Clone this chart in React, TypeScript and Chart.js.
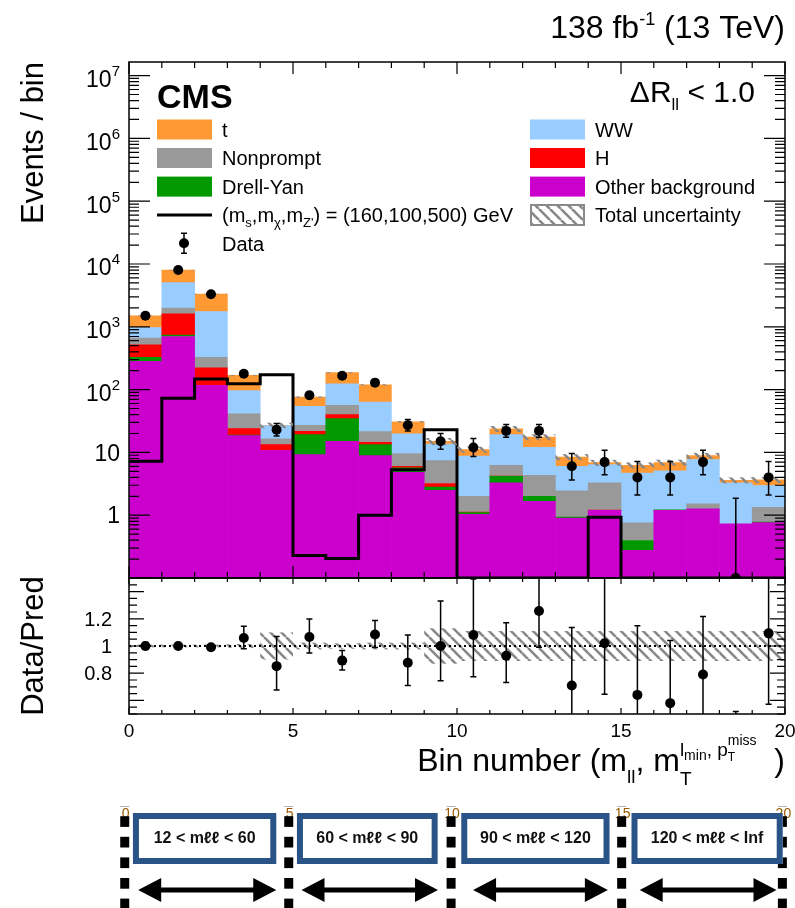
import React, { useEffect, useRef } from 'react';
import { Chart, registerables } from 'chart.js';

Chart.register(...registerables);

const FONT = '"Liberation Sans", Arial, Helvetica, sans-serif';

// 20 analysis bins, five per m_ll region
const binEdges = [0, 1, 2, 3, 4, 5, 6, 7, 8, 9, 10, 11, 12, 13, 14, 15, 16, 17, 18, 19, 20];

// Expected yields per bin, listed in stacking order (bottom to top)
const otherBkg = [281, 701, 117, 18.5, 10.8, 9.2, 15, 8.9, 4.8, 2.5, 1.03, 3.27, 1.67, 0.9, 1.19, 0.275, 1.2, 1.26, 0.73, 0.76];
const drellYan = [44, 34, 0, 0.3, 0, 10, 19.5, 4.4, 0.9, 0.3, 0.07, 0.9, 0.33, 0.03, 0, 0.12, 0.02, 0, 0, 0.02];
const higgs = [192, 875, 106, 5.1, 2.5, 2.5, 5.5, 1.2, 0.3, 0.4, 0.02, 0.03, 0, 0, 0.02, 0, 0, 0, 0, 0];
const nonprompt = [144, 370, 102, 17.1, 3.1, 5.3, 16, 6.9, 3.6, 4.2, 0.88, 2.0, 2.3, 1.51, 2.06, 0.36, 0, 0.26, 0, 0.56];
const wwBkg = [314, 3080, 1425, 55, 10.3, 27, 67, 42.1, 10.1, 6.2, 6.7, 13, 7.7, 3.56, 3.13, 3.94, 3.88, 6.18, 2.54, 1.63];
const topBkg = [525, 2940, 1580, 73, 0.3, 22, 63, 55.5, 11.1, 1.4, 2.4, 4.5, 5.5, 2.45, 0.46, 1.55, 1.8, 1.16, 0.33, 0.69];

// Signal hypothesis (m_s, m_chi, m_Z') = (160, 100, 500) GeV
const signalYield = [7.2, 73, 147, 124, 172, 0.229, 0.205, 1.0, 5.3, 23, 0, 0, 0, 0, 0.93, 0, 0, 0, 0, 0];

// Observed event counts
const observed = [1500, 8000, 3300, 179, 23, 81, 166, 129, 27, 15, 12, 22, 22, 6, 7, 4, 4, 7, 0, 4];

// Relative total uncertainty of the prediction
const relUnc = [0.01, 0.01, 0.01, 0.015, 0.1, 0.025, 0.02, 0.025, 0.025, 0.13, 0.11, 0.11, 0.11, 0.11, 0.11, 0.11, 0.11, 0.11, 0.11, 0.11];

// Axis tick labels
const decadeLabels = [0, 1, 2, 3, 4, 5, 6, 7];
const ratioLabels = [0.8, 1, 1.2];
const xLabels = [0, 5, 10, 15, 20];

// m_ll regions drawn under the bin axis
const mllLabels = ['12 < mℓℓ < 60', '60 < mℓℓ < 90', '90 < mℓℓ < 120', '120 < mℓℓ < Inf'];
const mllBoxSpans = [[0.12, 4.49], [5.12, 9.41], [10.13, 14.65], [15.32, 19.93]];
const mllArrowSpans = [[0.28, 4.49], [5.26, 9.42], [10.49, 14.6], [15.57, 19.74]];
const mllDividers = [-0.13, 4.87, 9.82, 15.02, 19.92];

const Y_MIN = 0.1;
const Y_MAX = 1.645e7;
const R_MIN = 0.5;
const R_MAX = 1.5;

const processes = [
  { label: 'Other background', color: '#cc00cc', values: otherBkg },
  { label: 'Drell-Yan', color: '#009900', values: drellYan },
  { label: 'H', color: '#ff0000', values: higgs },
  { label: 'Nonprompt', color: '#999999', values: nonprompt },
  { label: 'WW', color: '#99ccff', values: wwBkg },
  { label: 't', color: '#ff9933', values: topBkg },
];
const colorOf = (label: string) => processes.find((p) => p.label === label)!.color;

const centers = binEdges.slice(0, -1).map((e, i) => (e + binEdges[i + 1]) / 2);
const totals = centers.map((_, i) => processes.reduce((s, p) => s + p.values[i], 0));

// Poisson 68% interval (Gehrels approximation)
function poissonLow(n: number) {
  if (n <= 0) return 0;
  return n * Math.pow(1 - 1 / (9 * n) - 1 / (3 * Math.sqrt(n)), 3);
}
function poissonHigh(n: number) {
  return n + 1 + Math.sqrt(n + 0.75);
}

type Seg = { t: string; size: number; dy?: number; bold?: boolean; hold?: boolean };
const segFont = (s: Seg) => `${s.bold ? 'bold ' : ''}${s.size}px ${FONT}`;

function drawRich(ctx: CanvasRenderingContext2D, segs: Seg[], x: number, y: number, align: 'left' | 'right' | 'center' = 'left') {
  let w = 0;
  for (const s of segs) {
    ctx.font = segFont(s);
    if (!s.hold) w += ctx.measureText(s.t).width;
  }
  let cx = align === 'right' ? x - w : align === 'center' ? x - w / 2 : x;
  ctx.textAlign = 'left';
  ctx.textBaseline = 'alphabetic';
  for (const s of segs) {
    ctx.font = segFont(s);
    ctx.fillText(s.t, cx, y + (s.dy || 0));
    if (!s.hold) cx += ctx.measureText(s.t).width;
  }
}

function hatchPattern(ctx: CanvasRenderingContext2D) {
  const size = 11;
  const c = document.createElement('canvas');
  c.width = size;
  c.height = size;
  const g = c.getContext('2d')!;
  g.strokeStyle = '#888888';
  g.lineWidth = 2.6;
  for (const off of [-size, 0, size]) {
    g.beginPath();
    g.moveTo(off, 0);
    g.lineTo(off + size, size);
    g.stroke();
  }
  return ctx.createPattern(c, 'repeat')!;
}

function errorBar(ctx: CanvasRenderingContext2D, px: number, yLo: number, yHi: number, top: number, bottom: number, loCap: boolean) {
  ctx.beginPath();
  ctx.moveTo(px, Math.min(yLo, bottom + 2));
  ctx.lineTo(px, Math.max(yHi, top - 2));
  if (yHi >= top && yHi <= bottom) {
    ctx.moveTo(px - 3, yHi);
    ctx.lineTo(px + 3, yHi);
  }
  if (loCap && yLo >= top && yLo <= bottom) {
    ctx.moveTo(px - 3, yLo);
    ctx.lineTo(px + 3, yLo);
  }
  ctx.stroke();
}

const mainDecor = {
  id: 'mainDecor',
  beforeDatasetDraw(chart: any, args: any) {
    if (args.index !== 0) return;
    const { ctx, chartArea: a } = chart;
    const xs = chart.scales.x;
    const ys = chart.scales.y;
    ctx.save();
    ctx.beginPath();
    ctx.rect(a.left, a.top, a.right - a.left, a.bottom - a.top);
    ctx.clip();
    ctx.fillStyle = hatchPattern(ctx);
    totals.forEach((tot, i) => {
      const x0 = xs.getPixelForValue(binEdges[i]);
      const x1 = xs.getPixelForValue(binEdges[i + 1]);
      const yHi = ys.getPixelForValue(tot * (1 + relUnc[i]));
      const yLo = ys.getPixelForValue(tot * (1 - relUnc[i]));
      ctx.fillRect(x0, yHi, x1 - x0, yLo - yHi);
    });
    ctx.strokeStyle = '#000';
    ctx.lineWidth = 1.5;
    observed.forEach((n, i) => {
      const px = xs.getPixelForValue(centers[i]);
      const lo = poissonLow(n);
      const yLo = lo > 0 ? ys.getPixelForValue(lo) : a.bottom + 5;
      const yHi = ys.getPixelForValue(poissonHigh(n));
      errorBar(ctx, px, yLo, yHi, a.top, a.bottom, lo > 0);
    });
    ctx.restore();
  },
  afterDraw(chart: any) {
    const { ctx, chartArea: a } = chart;
    const xs = chart.scales.x;
    const ys = chart.scales.y;
    ctx.save();
    ctx.strokeStyle = '#000';
    ctx.fillStyle = '#000';
    ctx.lineWidth = 1.5;
    ctx.strokeRect(a.left, a.top, a.right - a.left, a.bottom - a.top);

    ctx.lineWidth = 1.2;
    ctx.beginPath();
    for (const e of binEdges) {
      const px = xs.getPixelForValue(e);
      const len = e % 5 === 0 ? 12 : 6;
      ctx.moveTo(px, a.bottom);
      ctx.lineTo(px, a.bottom - len);
      ctx.moveTo(px, a.top);
      ctx.lineTo(px, a.top + len);
    }
    for (let d = -1; d <= 7; d++) {
      for (let k = 1; k <= 9; k++) {
        const v = k * Math.pow(10, d);
        if (v < Y_MIN || v > Y_MAX) continue;
        const py = ys.getPixelForValue(v);
        const len = k === 1 ? 21 : 10;
        ctx.moveTo(a.left, py);
        ctx.lineTo(a.left + len, py);
        ctx.moveTo(a.right, py);
        ctx.lineTo(a.right - len, py);
      }
    }
    ctx.stroke();

    // log axis labels
    for (const d of decadeLabels) {
      const py = ys.getPixelForValue(Math.pow(10, d));
      if (d === 0) drawRich(ctx, [{ t: '1', size: 23 }], 120, py + 8.2, 'right');
      else if (d === 1) drawRich(ctx, [{ t: '10', size: 23 }], 120, py + 8.2, 'right');
      else drawRich(ctx, [{ t: '10', size: 23 }, { t: String(d), size: 15, dy: -11 }], 120, py + 11.5, 'right');
    }

    // y title
    ctx.save();
    ctx.translate(43, a.top);
    ctx.rotate(-Math.PI / 2);
    ctx.font = `31px ${FONT}`;
    ctx.textAlign = 'right';
    ctx.textBaseline = 'alphabetic';
    ctx.fillText('Events / bin', 0, 0);
    ctx.restore();

    // header texts
    drawRich(ctx, [{ t: '138 fb', size: 32 }, { t: '-1', size: 18, dy: -13 }, { t: ' (13 TeV)', size: 32 }], 785, 37.5, 'right');
    drawRich(ctx, [{ t: 'CMS', size: 34, bold: true }], 157, 108, 'left');
    drawRich(ctx, [{ t: 'ΔR', size: 30 }, { t: 'll', size: 17, dy: 8 }, { t: ' < 1.0', size: 30 }], 755, 102, 'right');

    // legend
    const rows = [129.5, 158, 186.6, 215, 243.3];
    const swatch = (x: number, cy: number, color: string) => {
      ctx.fillStyle = color;
      ctx.fillRect(x, cy - 10, 55, 20);
    };
    const label = (segs: Seg[], x: number, cy: number) => {
      ctx.fillStyle = '#000';
      drawRich(ctx, segs, x, cy + 7.2, 'left');
    };
    swatch(157, rows[0], colorOf('t'));
    label([{ t: 't', size: 20 }], 222, rows[0]);
    swatch(157, rows[1], colorOf('Nonprompt'));
    label([{ t: 'Nonprompt', size: 20 }], 222, rows[1]);
    swatch(157, rows[2], colorOf('Drell-Yan'));
    label([{ t: 'Drell-Yan', size: 20 }], 222, rows[2]);
    ctx.strokeStyle = '#000';
    ctx.lineWidth = 3;
    ctx.beginPath();
    ctx.moveTo(157, rows[3]);
    ctx.lineTo(212, rows[3]);
    ctx.stroke();
    label(
      [
        { t: '(m', size: 20 },
        { t: 's', size: 13, dy: 5 },
        { t: ',m', size: 20 },
        { t: 'χ', size: 13, dy: 5 },
        { t: ',m', size: 20 },
        { t: "Z'", size: 13, dy: 5 },
        { t: ') = (160,100,500) GeV', size: 20 },
      ],
      222,
      rows[3],
    );
    ctx.lineWidth = 1.5;
    ctx.beginPath();
    ctx.moveTo(184, rows[4] - 10);
    ctx.lineTo(184, rows[4] + 10);
    ctx.moveTo(181, rows[4] - 10);
    ctx.lineTo(187, rows[4] - 10);
    ctx.moveTo(181, rows[4] + 10);
    ctx.lineTo(187, rows[4] + 10);
    ctx.stroke();
    ctx.fillStyle = '#000';
    ctx.beginPath();
    ctx.arc(184, rows[4], 5, 0, Math.PI * 2);
    ctx.fill();
    label([{ t: 'Data', size: 20 }], 222, rows[4]);

    swatch(530, rows[0], colorOf('WW'));
    label([{ t: 'WW', size: 20 }], 595, rows[0]);
    swatch(530, rows[1], colorOf('H'));
    label([{ t: 'H', size: 20 }], 595, rows[1]);
    swatch(530, rows[2], colorOf('Other background'));
    label([{ t: 'Other background', size: 20 }], 595, rows[2]);
    ctx.fillStyle = hatchPattern(ctx);
    ctx.fillRect(531, rows[3] - 10, 53, 20);
    ctx.strokeStyle = '#8a8a8a';
    ctx.lineWidth = 2;
    ctx.strokeRect(531, rows[3] - 10, 53, 20);
    label([{ t: 'Total uncertainty', size: 20 }], 595, rows[3]);
    ctx.restore();
  },
};

const RATIO_TOP = 560;

const ratioDecor = {
  id: 'ratioDecor',
  beforeDatasetsDraw(chart: any) {
    const { ctx, chartArea: a } = chart;
    const xs = chart.scales.x;
    const ys = chart.scales.y;
    ctx.save();
    ctx.beginPath();
    ctx.rect(a.left, a.top, a.right - a.left, a.bottom - a.top);
    ctx.clip();
    ctx.fillStyle = hatchPattern(ctx);
    relUnc.forEach((u, i) => {
      const x0 = xs.getPixelForValue(binEdges[i]);
      const x1 = xs.getPixelForValue(binEdges[i + 1]);
      const yHi = ys.getPixelForValue(1 + u);
      const yLo = ys.getPixelForValue(1 - u);
      ctx.fillRect(x0, yHi, x1 - x0, yLo - yHi);
    });
    const y1 = ys.getPixelForValue(1);
    ctx.strokeStyle = '#000';
    ctx.lineWidth = 2;
    ctx.setLineDash([2, 3]);
    ctx.beginPath();
    ctx.moveTo(a.left, y1);
    ctx.lineTo(a.right, y1);
    ctx.stroke();
    ctx.setLineDash([]);
    ctx.lineWidth = 1.5;
    observed.forEach((n, i) => {
      const tot = totals[i];
      const px = xs.getPixelForValue(centers[i]);
      const lo = poissonLow(n) / tot;
      const hi = poissonHigh(n) / tot;
      const yLo = n > 0 ? ys.getPixelForValue(lo) : a.bottom + 5;
      errorBar(ctx, px, Math.min(yLo, a.bottom + 5), ys.getPixelForValue(hi), a.top, a.bottom, n > 0);
    });
    ctx.restore();
  },
  afterDraw(chart: any) {
    const { ctx, chartArea: a } = chart;
    const xs = chart.scales.x;
    const ys = chart.scales.y;
    const py = (pageY: number) => pageY - RATIO_TOP;
    ctx.save();
    ctx.strokeStyle = '#000';
    ctx.fillStyle = '#000';
    ctx.lineWidth = 1.5;
    ctx.strokeRect(a.left, a.top, a.right - a.left, a.bottom - a.top);
    ctx.lineWidth = 1.2;
    ctx.beginPath();
    for (const e of binEdges) {
      const px = xs.getPixelForValue(e);
      const len = e % 5 === 0 ? 6 : 4;
      ctx.moveTo(px, a.bottom);
      ctx.lineTo(px, a.bottom - len);
      ctx.moveTo(px, a.top);
      ctx.lineTo(px, a.top + len);
    }
    for (let j = 10; j <= 30; j++) {
      const yv = ys.getPixelForValue(j * 0.05);
      const len = j % 4 === 0 ? 15 : 8;
      ctx.moveTo(a.left, yv);
      ctx.lineTo(a.left + len, yv);
      ctx.moveTo(a.right, yv);
      ctx.lineTo(a.right - len, yv);
    }
    ctx.stroke();

    for (const v of ratioLabels) {
      drawRich(ctx, [{ t: String(v), size: 20 }], 112, ys.getPixelForValue(v) + 7.2, 'right');
    }
    for (const v of xLabels) {
      drawRich(ctx, [{ t: String(v), size: 19 }], xs.getPixelForValue(v), py(737), 'center');
    }

    ctx.save();
    ctx.translate(43, (a.top + a.bottom) / 2);
    ctx.rotate(-Math.PI / 2);
    ctx.font = `31px ${FONT}`;
    ctx.textAlign = 'center';
    ctx.textBaseline = 'alphabetic';
    ctx.fillText('Data/Pred', 0, 0);
    ctx.restore();

    drawRich(
      ctx,
      [
        { t: 'Bin number (m', size: 32 },
        { t: 'll', size: 19, dy: 12 },
        { t: ', m', size: 32 },
        { t: 'T', size: 19, dy: 14, hold: true },
        { t: 'l', size: 19, dy: -15 },
        { t: 'min', size: 14, dy: -11 },
        { t: ', p', size: 19, dy: -15 },
        { t: 'T', size: 12, dy: -10, hold: true },
        { t: 'miss', size: 14, dy: -26 },
        { t: '  )', size: 32 },
      ],
      785,
      py(771),
      'right',
    );

    // m_ll region strip
    ctx.fillStyle = '#9a5a00';
    for (const [k, v] of xLabels.entries()) {
      drawRich(ctx, [{ t: String(v), size: 14 }], xs.getPixelForValue(mllDividers[k]) + 1, py(818), 'center');
    }
    ctx.fillStyle = '#000';
    for (const d of mllDividers) {
      const cx = xs.getPixelForValue(d);
      for (let y = 795.6; y < 908; y += 20.6) {
        const y0 = Math.max(y, 806);
        const y1 = Math.min(y + 10.7, 908);
        if (y1 > y0) ctx.fillRect(cx - 4.5, py(y0), 9, y1 - y0);
      }
    }
    mllBoxSpans.forEach(([s, e], i) => {
      const x0 = xs.getPixelForValue(s);
      const x1 = xs.getPixelForValue(e);
      ctx.fillStyle = '#fff';
      ctx.fillRect(x0, py(813), x1 - x0, 51);
      ctx.strokeStyle = '#2a5388';
      ctx.lineWidth = 6;
      ctx.strokeRect(x0 + 3, py(816), x1 - x0 - 6, 45);
      ctx.fillStyle = '#111';
      drawRich(ctx, [{ t: mllLabels[i], size: 16, bold: true }], (x0 + x1) / 2, py(843), 'center');
    });
    ctx.fillStyle = '#000';
    ctx.strokeStyle = '#000';
    mllArrowSpans.forEach(([s, e]) => {
      const x0 = xs.getPixelForValue(s);
      const x1 = xs.getPixelForValue(e);
      const yc = py(890);
      ctx.lineWidth = 5;
      ctx.beginPath();
      ctx.moveTo(x0 + 20, yc);
      ctx.lineTo(x1 - 20, yc);
      ctx.stroke();
      ctx.beginPath();
      ctx.moveTo(x0, yc);
      ctx.lineTo(x0 + 23, yc - 12);
      ctx.lineTo(x0 + 23, yc + 12);
      ctx.closePath();
      ctx.fill();
      ctx.beginPath();
      ctx.moveTo(x1, yc);
      ctx.lineTo(x1 - 23, yc - 12);
      ctx.lineTo(x1 - 23, yc + 12);
      ctx.closePath();
      ctx.fill();
    });
    ctx.restore();
  },
};

export default function App() {
  const mainRef = useRef<HTMLCanvasElement>(null);
  const ratioRef = useRef<HTMLCanvasElement>(null);

  useEffect(() => {
    const main = new Chart(mainRef.current!, {
      type: 'bar',
      data: {
        datasets: [
          {
            type: 'line',
            label: 'Data',
            data: observed.map((n, i) => ({ x: centers[i], y: n > 0 ? n : Y_MIN })),
            showLine: false,
            pointRadius: 5,
            pointHoverRadius: 5,
            pointBackgroundColor: '#000',
            pointBorderWidth: 0,
            borderWidth: 0,
            stack: 'data',
            order: 0,
          } as any,
          {
            type: 'line',
            label: 'Signal',
            data: [
              ...signalYield.map((v, i) => ({ x: binEdges[i], y: v > 0 ? v : Y_MIN })),
              { x: binEdges[binEdges.length - 1], y: signalYield[signalYield.length - 1] > 0 ? signalYield[signalYield.length - 1] : Y_MIN },
            ],
            stepped: true,
            borderColor: '#000',
            borderWidth: 3,
            pointRadius: 0,
            fill: false,
            stack: 'sig',
            order: 1,
          } as any,
          ...processes.map((p) => ({
            type: 'bar',
            label: p.label,
            data: p.values.map((v, i) => ({ x: centers[i], y: v })),
            backgroundColor: p.color,
            borderWidth: 0,
            stack: 'bkg',
            categoryPercentage: 1,
            barPercentage: 1,
            order: 2,
          })) as any[],
        ],
      },
      options: {
        responsive: false,
        animation: false,
        devicePixelRatio: 1,
        events: [],
        layout: { padding: { left: 129, right: 10, top: 62, bottom: 22 } },
        plugins: { legend: { display: false }, tooltip: { enabled: false } },
        scales: {
          x: { type: 'linear', min: 0, max: 20, offset: false, display: false, stacked: true, grid: { offset: false } },
          y: { type: 'logarithmic', min: Y_MIN, max: Y_MAX, display: false, stacked: true },
        },
      } as any,
      plugins: [mainDecor],
    });

    const ratio = new Chart(ratioRef.current!, {
      type: 'scatter',
      data: {
        datasets: [
          {
            label: 'Data/Pred',
            data: observed.map((n, i) => ({ x: centers[i], y: n > 0 ? n / totals[i] : null })),
            pointRadius: 5,
            pointHoverRadius: 5,
            pointBackgroundColor: '#000',
            pointBorderWidth: 0,
            borderWidth: 0,
            showLine: false,
          } as any,
        ],
      },
      options: {
        responsive: false,
        animation: false,
        devicePixelRatio: 1,
        events: [],
        layout: { padding: { left: 129, right: 10, top: 18, bottom: 194 } },
        plugins: { legend: { display: false }, tooltip: { enabled: false } },
        scales: {
          x: { type: 'linear', min: 0, max: 20, display: false },
          y: { type: 'linear', min: R_MIN, max: R_MAX, display: false },
        },
      } as any,
      plugins: [ratioDecor],
    });

    return () => {
      main.destroy();
      ratio.destroy();
    };
  }, []);

  return (
    <div style={{ position: 'absolute', left: 0, top: 0, width: 795, height: 908, background: '#fff', overflow: 'hidden' }}>
      <canvas ref={mainRef} width={795} height={600} style={{ position: 'absolute', left: 0, top: 0, width: 795, height: 600 }} />
      <canvas ref={ratioRef} width={795} height={348} style={{ position: 'absolute', left: 0, top: RATIO_TOP, width: 795, height: 348 }} />
    </div>
  );
}
